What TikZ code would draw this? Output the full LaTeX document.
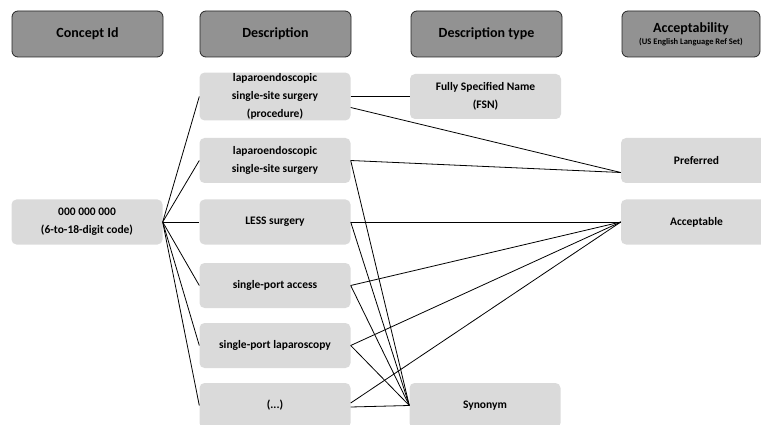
\documentclass[tikz,border=0pt]{standalone}
\usepackage{fontspec}
\setmainfont{Carlito}
\usepackage{tikz}
\usetikzlibrary{shapes}
\definecolor{headgray}{RGB}{146,146,146}
\definecolor{boxgray}{RGB}{218,218,218}
\tikzset{head/.style={draw=black!85,fill=headgray,rounded corners=6pt,thick,minimum width=151pt,minimum height=46pt,inner sep=1pt,font=\bfseries\fontsize{14}{15}\selectfont,align=center},
  term/.style={fill=boxgray,rounded corners=5pt,minimum width=151pt,minimum height=45pt,inner sep=1pt,font=\bfseries\fontsize{11.5}{18}\selectfont,align=center},
  link/.style={-,color=black,line width=0.8pt}}

\begin{document}
\begin{tikzpicture}[x=1pt,y=-1pt]
\useasboundingbox (0,0) rectangle (761,425);
\clip (0,0) rectangle (761,425);
% column heads
\node[head] (hcid) at (87.5,34){Concept Id};
\node[head] (hdesc) at (275.5,34){Description};
\node[head] (htype) at (486.5,34){Description type};
\node[head,minimum width=138pt] (hacc) at (691,34){Acceptability\\[-3pt]{\fontsize{8.5}{9}\selectfont (US English Language Ref Set)}};
% terms
\node[term] (cid) at (87,222){000 000 000\\(6-to-18-digit code)};
\node[term] (lssp) at (275,96.5){laparoendoscopic\\single-site surgery\\(procedure)};
\node[term] (lss) at (275,160.5){laparoendoscopic\\single-site surgery};
\node[term] (less) at (275,222){LESS surgery};
\node[term] (spa) at (275,285.5){single-port access};
\node[term] (spl) at (275,345.5){single-port laparoscopy};
\node[term] (etc) at (275,405.5){(...)};
\node[term] (fsn) at (485.5,96.5){Fully Specified Name\\(FSN)};
\node[term] (syn) at (485,405.5){Synonym};
\node[term] (pref) at (696.5,160.5){Preferred};
\node[term] (acc) at (696.5,222){Acceptable};
\coordinate (prefin) at ([yshift=-12pt]pref.west);
% concept to descriptions
\foreach \d in {lssp,lss,less,spa,spl,etc}
  \draw[link] (cid.east) -- (\d.west);
% descriptions to types
\draw[link] (lssp.east) -- (fsn.west);
\foreach \d in {lss,less,spa,spl}
  \draw[link] (\d.east) -- (syn.west);
\draw[link] ([yshift=-1.5pt]etc.east) -- (syn.west);
% descriptions to acceptability
\draw[link] ([yshift=-11pt]lssp.east) -- (prefin);
\draw[link] (lss.east) -- (prefin);
\foreach \d in {less,spa,spl}
  \draw[link] (\d.east) -- (acc.west);
\draw[link] ([yshift=2.5pt]etc.east) -- (acc.west);
\end{tikzpicture}
\end{document}
